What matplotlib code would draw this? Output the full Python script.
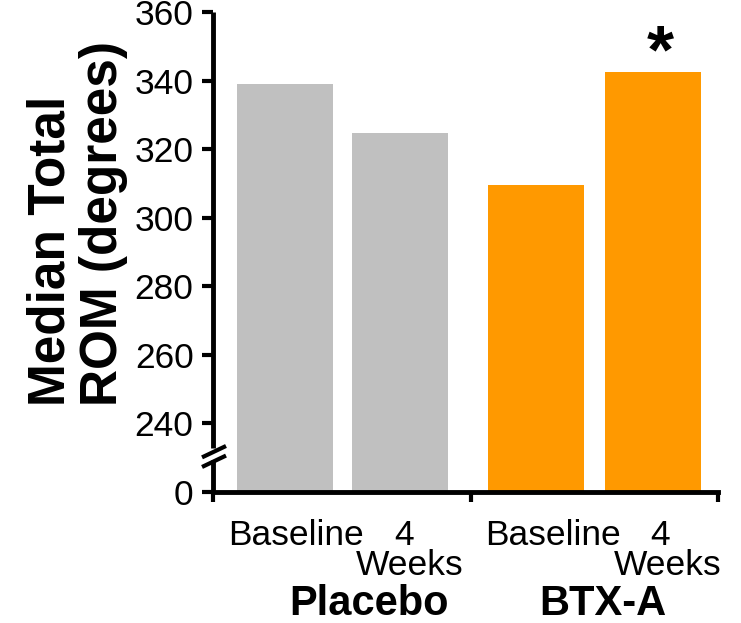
import matplotlib
matplotlib.use("Agg")
import matplotlib.pyplot as plt
import numpy as np

plt.rcParams['font.family'] = ['Liberation Sans', 'DejaVu Sans']

groups = ["Placebo", "BTX-A"]
timepoints = ["Baseline", "4\nWeeks"]
values = [339, 324.8, 309.6, 342.5]
colors = ["#c0c0c0", "#c0c0c0", "#ff9900", "#ff9900"]
yticks = [0, 240, 260, 280, 300, 320, 340, 360]
significant = [False, False, False, True]


# broken y scale: 0..240 squeezed into the space of 20 units
def fwd(v):
    v = np.asarray(v, dtype=float)
    return np.where(v >= 240, v, 220 + v * 20 / 240)


def inv(y):
    y = np.asarray(y, dtype=float)
    return np.where(y >= 240, y, (y - 220) * 240 / 20)


fig = plt.figure(figsize=(7.41, 6.23), dpi=100)
ax = fig.add_axes([213 / 741, 1 - 492 / 623, 505 / 741, 480 / 623])

xpos = [0, 1, 2.183, 3.2]
ax.bar(xpos, values, width=0.835, color=colors, bottom=0)
ax.set_yscale('function', functions=(fwd, inv))
ax.set_ylim(0, 360)
ax.set_xlim(-0.626, 3.765)

ax.set_yticks(yticks)
ax.set_yticklabels([str(t) for t in yticks])
ax.set_xticks([-0.626, 1.617, 3.765])
ax.set_xticklabels([])
ax.yaxis.set_minor_locator(matplotlib.ticker.NullLocator())

for s in ["top", "right", "left"]:
    ax.spines[s].set_visible(False)
ax.spines["bottom"].set_linewidth(3.5)
ax.tick_params(axis='y', length=8, width=3, labelsize=25.5, pad=6)
ax.tick_params(axis='x', length=7, width=3)

# left spine with break marks
lw = 3.5
tr = ax.transAxes
ax.plot([0, 0], [1.0, 0.091], color='k', lw=lw, transform=tr, clip_on=False, solid_capstyle='butt')
ax.plot([0, 0], [0.066, 0], color='k', lw=lw, transform=tr, clip_on=False, solid_capstyle='butt')
ax.plot([-0.018, 0.022], [0.074, 0.094], color='k', lw=3, transform=tr, clip_on=False)
ax.plot([-0.018, 0.022], [0.054, 0.074], color='k', lw=3, transform=tr, clip_on=False)

# significance marker
for x, v, sig in zip(xpos, values, significant):
    if sig:
        ax.text(x + 0.06, v, "*", ha='center', va='baseline', fontsize=50,
                fontweight='bold')

# category labels
fs = 25.5
fig.text(296 / 741, 1 - 545 / 623, "Baseline", ha='center', va='baseline', fontsize=fs)
fig.text(404 / 741, 1 - 545 / 623, "4", ha='center', va='baseline', fontsize=fs)
fig.text(410 / 741, 1 - 575 / 623, "Weeks", ha='center', va='baseline', fontsize=fs)
fig.text(553 / 741, 1 - 545 / 623, "Baseline", ha='center', va='baseline', fontsize=fs)
fig.text(660 / 741, 1 - 545 / 623, "4", ha='center', va='baseline', fontsize=fs)
fig.text(668 / 741, 1 - 575 / 623, "Weeks", ha='center', va='baseline', fontsize=fs)
fig.text(369 / 741, 1 - 615 / 623, groups[0], ha='center', va='baseline', fontsize=30,
         fontweight='bold')
fig.text(603 / 741, 1 - 615 / 623, groups[1], ha='center', va='baseline', fontsize=30,
         fontweight='bold')

fig.text(77 / 741, 1 - 224 / 623, "Median Total\nROM (degrees)", rotation=90,
         ha='center', va='center', multialignment='left', fontsize=37,
         fontweight='bold', linespacing=1.1)

fig.savefig("out.png", dpi=100)
